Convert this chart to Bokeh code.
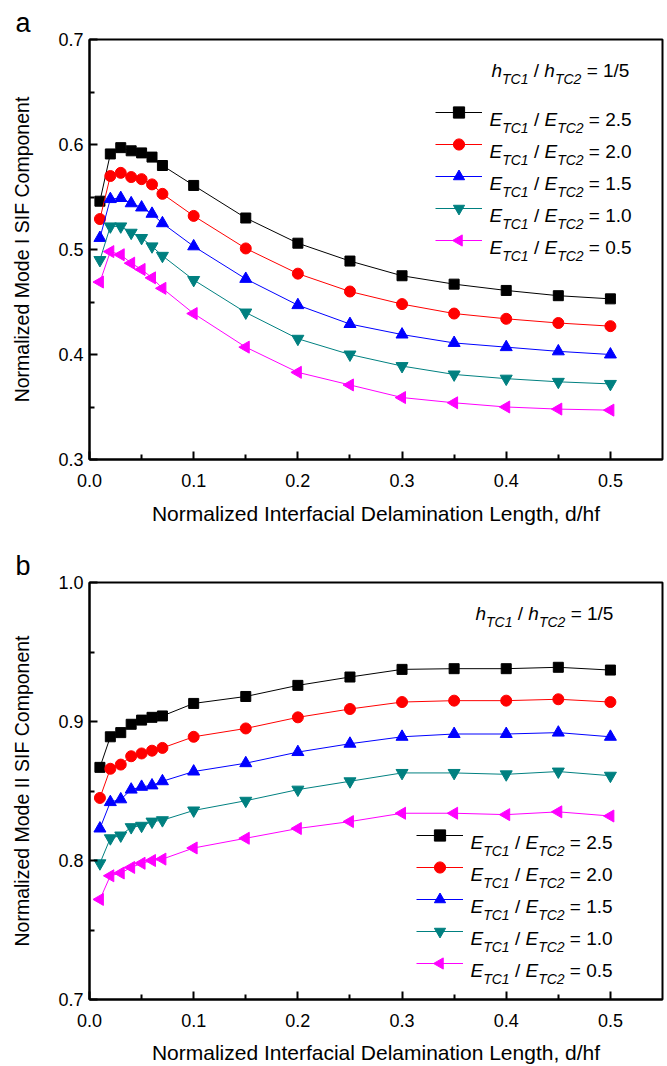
import math
from bokeh.plotting import figure
from bokeh.models import (Range1d, FixedTicker, NumeralTickFormatter,
                          Label, Legend, LegendItem, PolyAnnotation)
from bokeh.layouts import column
from bokeh.embed import file_html
from bokeh.resources import INLINE

# ---------------- data ----------------
d_hf = [0.01, 0.02, 0.03, 0.04, 0.05, 0.06, 0.07, 0.1, 0.15, 0.2, 0.25, 0.3, 0.35, 0.4, 0.45, 0.5]

ratios = ["2.5", "2.0", "1.5", "1.0", "0.5"]

mode1_25 = [0.546, 0.591, 0.597, 0.594, 0.592, 0.588, 0.580, 0.561, 0.530, 0.506, 0.489, 0.475, 0.467, 0.461, 0.456, 0.453]
mode1_20 = [0.529, 0.570, 0.573, 0.569, 0.567, 0.562, 0.553, 0.532, 0.501, 0.477, 0.460, 0.448, 0.439, 0.434, 0.430, 0.427]
mode1_15 = [0.511, 0.548, 0.549, 0.544, 0.540, 0.534, 0.525, 0.503, 0.472, 0.447, 0.429, 0.419, 0.411, 0.407, 0.403, 0.400]
mode1_10 = [0.490, 0.522, 0.522, 0.516, 0.511, 0.503, 0.494, 0.471, 0.440, 0.415, 0.400, 0.389, 0.381, 0.377, 0.374, 0.372]
mode1_05 = [0.469, 0.498, 0.495, 0.487, 0.481, 0.473, 0.463, 0.439, 0.407, 0.383, 0.371, 0.359, 0.354, 0.350, 0.348, 0.347]

mode2_25 = [0.867, 0.889, 0.892, 0.898, 0.901, 0.903, 0.904, 0.913, 0.918, 0.926, 0.932, 0.9375, 0.938, 0.938, 0.939, 0.937]
mode2_20 = [0.845, 0.866, 0.869, 0.875, 0.877, 0.879, 0.881, 0.889, 0.895, 0.903, 0.909, 0.914, 0.915, 0.915, 0.916, 0.914]
mode2_15 = [0.823, 0.842, 0.844, 0.851, 0.853, 0.854, 0.857, 0.864, 0.870, 0.878, 0.884, 0.889, 0.891, 0.891, 0.892, 0.889]
mode2_10 = [0.798, 0.816, 0.818, 0.824, 0.825, 0.828, 0.829, 0.836, 0.843, 0.851, 0.857, 0.863, 0.863, 0.862, 0.864, 0.861]
mode2_05 = [0.772, 0.789, 0.791, 0.795, 0.798, 0.800, 0.801, 0.809, 0.816, 0.823, 0.828, 0.834, 0.834, 0.833, 0.835, 0.832]

x_ticks = [0.0, 0.1, 0.2, 0.3, 0.4, 0.5]
x_minor = [0.05, 0.15, 0.25, 0.35, 0.45]
y1_ticks = [0.3, 0.4, 0.5, 0.6, 0.7]
y1_minor = [0.35, 0.45, 0.55, 0.65]
y2_ticks = [0.7, 0.8, 0.9, 1.0]
y2_minor = [0.75, 0.85, 0.95]

x_label = "Normalized Interfacial Delamination Length, d/hf"
y_label_1 = "Normalized Mode I SIF Component"
y_label_2 = "Normalized Mode II SIF Component"

# ---------------- styles ----------------
FONT = "Liberation Sans"
colors = ["#000000", "#FF0000", "#0000FF", "#008080", "#FF00FF"]
markers = ["square", "circle", "triangle", "inverted_triangle", "triangle"]
angles = [0, 0, 0, 0, math.pi / 2]
sizes = [10, 11, 12, 12, 12]

W = {' ': 278, '/': 278, '=': 584, '.': 278, 'E': 667, 'T': 611, 'C': 722, 'h': 556}
for ch in "0123456789":
    W[ch] = 556


def tw(s, size):
    return sum(W.get(c, 556) for c in s) * size / 1000.0


def rich(p, x, y, parts):
    cx = x
    for txt, size, style, dy in parts:
        lead = len(txt) - len(txt.lstrip(' '))
        trail = len(txt) - len(txt.rstrip(' '))
        core = txt.strip(' ')
        cx += lead * W[' '] * size / 1000.0
        p.add_layout(Label(x=cx, y=y + dy, x_units="screen", y_units="screen",
                           text=core, text_font=FONT, text_font_size=f"{size}px",
                           text_font_style=style, text_color="black",
                           text_baseline="alphabetic", text_align="left"))
        cx += tw(core, size) + trail * W[' '] * size / 1000.0


def ratio_parts(sym, val):
    return [(sym, 19, "italic", 0), ("TC1", 14, "italic", -8), (" / ", 19, "normal", 0),
            (sym, 19, "italic", 0), ("TC2", 14, "italic", -8), (" = " + val, 19, "normal", 0)]


GLYPH_W, GLYPH_H, LEG_SP = 47, 28, 4


def make_fig(height, b_top, b_bottom, y0, y1, yticks, yminor, ylab, series, letter,
             leg_x, leg_y, txt_x, txt_y0, h_x, h_y, xlab_standoff):
    p = figure(width=667, height=height, output_backend="svg", toolbar_location=None,
               x_range=Range1d(0.0, 0.55), y_range=Range1d(y0, y1),
               min_border_left=89, min_border_right=5,
               min_border_top=b_top, min_border_bottom=b_bottom,
               background_fill_color="white", border_fill_color="white")
    p.grid.visible = False
    p.outline_line_color = "black"
    p.outline_line_width = 2

    p.title.text = letter
    p.title.text_font = FONT
    p.title.text_font_size = "27px"
    p.title.text_font_style = "normal"
    p.title.text_color = "black"
    p.title.align = "left"
    p.title.offset = -74
    p.title.standoff = 4

    p.xaxis.ticker = FixedTicker(ticks=x_ticks, minor_ticks=x_minor)
    p.yaxis.ticker = FixedTicker(ticks=yticks, minor_ticks=yminor)
    p.xaxis.formatter = NumeralTickFormatter(format="0.0")
    p.yaxis.formatter = NumeralTickFormatter(format="0.0")
    for ax in (p.xaxis, p.yaxis):
        ax.axis_line_width = 2
        ax.major_tick_line_width = 2
        ax.minor_tick_line_width = 2
        ax.major_tick_in = 8
        ax.major_tick_out = 0
        ax.minor_tick_in = 5
        ax.minor_tick_out = 0
        ax.major_label_text_font = FONT
        ax.major_label_text_font_size = "18px"
        ax.major_label_text_color = "black"
        ax.axis_label_text_font = FONT
        ax.axis_label_text_font_style = "normal"
        ax.axis_label_text_color = "black"
    p.xaxis.axis_label = x_label
    p.xaxis.axis_label_text_font_size = "21px"
    p.xaxis.major_label_standoff = 14
    p.xaxis.axis_label_standoff = xlab_standoff
    p.yaxis.axis_label = ylab
    p.yaxis.axis_label_text_font_size = "19.5px"
    p.yaxis.major_label_standoff = 6
    p.yaxis.axis_label_standoff = 22

    items = []
    n = len(series)
    for i, (ys, c, m, a, s) in enumerate(zip(series, colors, markers, angles, sizes)):
        lr = p.line(d_hf, ys, line_color=c, line_width=1)
        sr = p.scatter(d_hf, ys, marker=m, angle=a, size=s, fill_color=c, line_color=c)
        rends = [lr, sr] if a == 0 else [lr]
        items.append(LegendItem(label=" ", renderers=rends))
        if a != 0:
            # legend sample marker for the left-pointing triangle (legend ignores angle)
            cx = leg_x + GLYPH_W / 2.0
            cy = leg_y + (n - 1 - i) * (GLYPH_H + LEG_SP) + GLYPH_H / 2.0
            r = GLYPH_H * 0.4 / 2.0
            hh = r * math.sqrt(3)
            p.add_layout(PolyAnnotation(xs=[cx - 2 * hh / 3, cx + hh / 3, cx + hh / 3],
                                        ys=[cy, cy + r, cy - r],
                                        xs_units="screen", ys_units="screen",
                                        fill_color=c, fill_alpha=1.0,
                                        line_color=c, line_alpha=1.0, line_width=1))

    leg = Legend(items=items, location=(leg_x, leg_y), glyph_width=GLYPH_W, glyph_height=GLYPH_H,
                 label_height=GLYPH_H, label_width=0, label_standoff=0, spacing=LEG_SP,
                 padding=0, margin=0, label_text_font_size="1px",
                 border_line_alpha=0, background_fill_alpha=0)
    p.add_layout(leg)

    for i, r in enumerate(ratios):
        rich(p, txt_x, txt_y0 - (GLYPH_H + LEG_SP) * i, ratio_parts("E", r))

    rich(p, h_x, h_y, [("h", 19, "italic", 0), ("TC1", 14, "italic", -8), (" / ", 19, "normal", 0),
                       ("h", 19, "italic", 0), ("TC2", 14, "italic", -8), (" = 1/5", 19, "normal", 0)])
    return p


p1 = make_fig(540, 39, 81, 0.3, 0.7, y1_ticks, y1_minor, y_label_1,
              [mode1_25, mode1_20, mode1_15, mode1_10, mode1_05], "a",
              346, 205, 400, 340, 402, 389, 12)
p2 = make_fig(526, 42, 64, 0.7, 1.0, y2_ticks, y2_minor, y_label_2,
              [mode2_25, mode2_20, mode2_15, mode2_10, mode2_05], "b",
              327, 22, 381, 157, 386, 386, 11)

layout = column(p1, p2, spacing=0)
open("out.html", "w").write(file_html(layout, INLINE))
